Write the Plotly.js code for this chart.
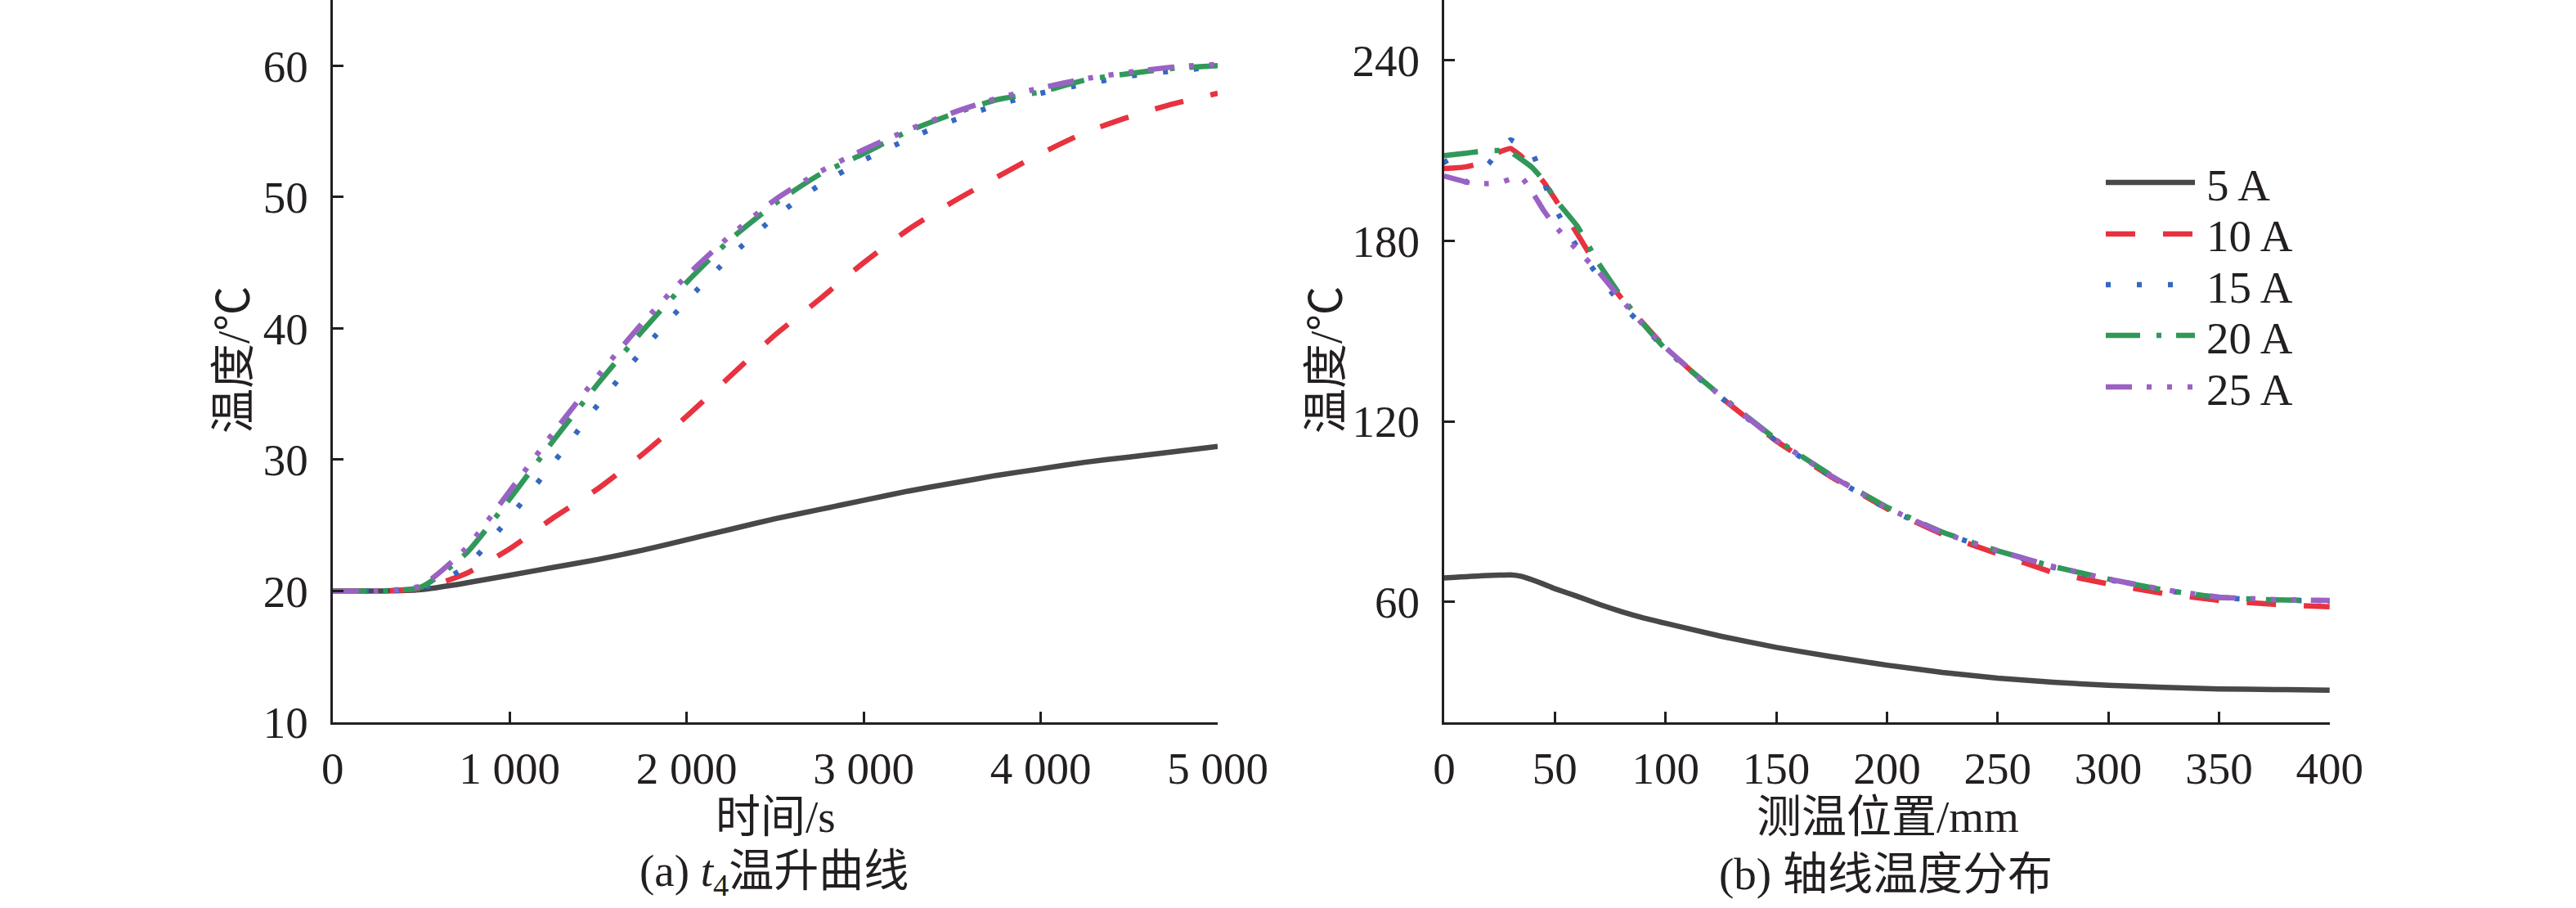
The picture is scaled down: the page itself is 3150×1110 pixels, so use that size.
<!DOCTYPE html>
<html>
<head>
<meta charset="utf-8">
<script src="https://cdn.plot.ly/plotly-3.0.1.min.js"></script>
<style>
  html, body { margin: 0; padding: 0; background: #fff; }
  #graph { width: 3150px; height: 1110px; }
</style>
</head>
<body>
<div id="graph"></div>
<script>
// (a) t4 temperature rise, time in s
var timeS = [0, 250, 500, 750, 1000, 1250, 1500, 1750, 2000, 2250, 2500, 2750, 3000, 3250, 3500, 3750, 4000, 4250, 4500, 4750, 5000];
var riseA5  = [20.0, 20.0, 20.1, 20.6, 21.2, 21.8, 22.4, 23.1, 23.9, 24.7, 25.5, 26.2, 26.9, 27.6, 28.2, 28.8, 29.3, 29.8, 30.2, 30.6, 31.0];
var riseA10 = [20.0, 20.0, 20.2, 21.3, 23.2, 25.6, 27.8, 30.4, 33.3, 36.4, 39.5, 42.2, 45.0, 47.5, 49.6, 51.5, 53.3, 54.9, 56.1, 57.1, 57.9];
var riseA15 = [20.0, 20.0, 20.2, 21.8, 25.6, 29.8, 34.2, 38.3, 42.1, 45.5, 48.5, 50.9, 52.8, 54.4, 55.8, 57.0, 57.9, 58.6, 59.2, 59.6, 59.9];
var riseA20 = [20.0, 20.0, 20.3, 22.8, 27.0, 31.5, 35.8, 39.8, 43.5, 46.8, 49.5, 51.7, 53.3, 55.0, 56.3, 57.4, 58.0, 58.9, 59.4, 59.8, 60.0];
var riseA25 = [20.0, 20.0, 20.4, 23.2, 27.6, 32.1, 36.4, 40.4, 44.0, 47.1, 49.8, 51.9, 53.6, 55.1, 56.4, 57.5, 58.3, 59.0, 59.5, 59.9, 60.1];

// (b) axial temperature, position in mm
var posMm = [0, 5, 10, 15, 20, 25, 30, 35, 40, 45, 50, 60, 70, 80, 90, 100, 125, 150, 175, 200, 225, 250, 275, 300, 325, 350, 375, 400];
var axA5  = [68.0, 68.2, 68.4, 68.6, 68.8, 68.9, 69.0, 68.5, 67.3, 65.9, 64.4, 61.9, 59.2, 56.8, 54.7, 52.9, 48.6, 44.9, 41.8, 39.0, 36.6, 34.7, 33.3, 32.3, 31.6, 31.1, 30.9, 30.7];
var axA10 = [204.0, 204.2, 204.6, 205.5, 207.5, 209.5, 210.7, 208.0, 204.0, 199.5, 194.0, 182.5, 170.5, 161.0, 152.5, 144.5, 128.0, 113.5, 101.5, 91.0, 82.5, 76.0, 69.8, 66.0, 62.8, 60.5, 59.2, 58.4];
var axA15 = [207.0, 201.0, 199.5, 203.0, 205.5, 210.0, 213.5, 211.5, 209.0, 199.5, 191.0, 178.0, 168.0, 159.0, 151.5, 144.0, 128.0, 113.5, 101.5, 91.0, 83.0, 76.8, 71.5, 67.4, 63.9, 61.4, 60.6, 60.3];
var axA20 = [208.3, 208.7, 209.1, 209.6, 210.0, 210.0, 209.5, 207.0, 204.2, 200.0, 194.0, 185.0, 172.3, 161.5, 152.3, 144.0, 128.5, 114.0, 102.0, 91.5, 83.2, 77.0, 71.8, 67.6, 64.0, 61.5, 60.7, 60.4];
var axA25 = [201.5, 200.5, 199.5, 199.2, 199.0, 199.2, 200.5, 201.0, 196.0, 190.0, 185.0, 177.0, 169.5, 160.5, 152.0, 144.5, 128.3, 113.8, 101.8, 91.3, 83.0, 77.0, 71.8, 67.6, 64.1, 61.6, 60.8, 60.5];

var currentNames = ['5 A', '10 A', '15 A', '20 A', '25 A'];
var timeTickVals = [0, 1000, 2000, 3000, 4000, 5000];
var timeTickText = ['0', '1 000', '2 000', '3 000', '4 000', '5 000'];
var riseTickVals = [10, 20, 30, 40, 50, 60];
var posTickVals = [0, 50, 100, 150, 200, 250, 300, 350, 400];
var axTickVals = [60, 120, 180, 240];

var colors = ['#48484b', '#e8323f', '#3568c0', '#31985a', '#9a62c4'];
var dashes = ['solid', '36px,34px', '6px,32px', '42px,20px,6px,18px', '32px,18px,6px,19px,6px,19px,6px,18px'];
var FONT = 'Liberation Serif, Noto Sans CJK SC, serif';
var INK = '#231f20';
var LW = 6.5;

var riseSeries = [riseA5, riseA10, riseA15, riseA20, riseA25];
var axSeries = [axA5, axA10, axA15, axA20, axA25];

var data = [];
for (var i = 0; i < 5; i++) {
    data.push({
        x: timeS, y: riseSeries[i], xaxis: 'x', yaxis: 'y',
        type: 'scatter', mode: 'lines', name: currentNames[i],
        line: {color: colors[i], width: LW, dash: dashes[i], shape: 'spline', smoothing: 0.6}
    });
}
for (var j = 0; j < 5; j++) {
    data.push({
        x: posMm, y: axSeries[j], xaxis: 'x2', yaxis: 'y2',
        type: 'scatter', mode: 'lines', name: currentNames[j],
        line: {color: colors[j], width: LW, dash: dashes[j], shape: 'spline', smoothing: 0.3}
    });
}

function axisBase() {
    return {
        showgrid: false, zeroline: false, showline: true,
        linecolor: INK, linewidth: 3,
        ticks: 'inside', ticklen: 13, tickwidth: 3, tickcolor: INK,
        tickfont: {family: FONT, size: 55, color: INK},
        fixedrange: true
    };
}

var xa = axisBase();
xa.domain = [0.1291, 0.4727]; xa.range = [0, 5000]; xa.anchor = 'y';
xa.tickvals = timeTickVals; xa.ticktext = timeTickText; xa.ticklabelstandoff = 6;

var ya = axisBase();
ya.domain = [0, 1]; ya.range = [10, 65]; ya.anchor = 'x';
ya.tickvals = riseTickVals; ya.ticklabelstandoff = 16;

var xb = axisBase();
xb.domain = [0.5606, 0.9044]; xb.range = [0, 400]; xb.anchor = 'y2';
xb.tickvals = posTickVals; xb.ticklabelstandoff = 6;

var yb = axisBase();
yb.domain = [0, 1]; yb.range = [20, 260]; yb.anchor = 'x2';
yb.tickvals = axTickVals; yb.ticklabelstandoff = 16;

var plotH = 883;
function py(pixel) { return (plotH - pixel) / plotH; }
function px(pixel) { return pixel / 3150; }

function label(text, x, y, angle, anchor) {
    return {
        text: text, xref: 'paper', yref: 'paper', x: px(x), y: py(y),
        xanchor: anchor || 'center', yanchor: 'middle', showarrow: false,
        textangle: angle || 0,
        font: {family: FONT, size: 55, color: INK}
    };
}

var annotations = [
    label('时间/s', 948, 998),
    label('(a) <i>t</i><sub>4</sub>温升曲线', 946, 1068),
    label('温度/℃', 285, 440, -90),
    label('测温位置/mm', 2308, 998),
    label('(b) 轴线温度分布', 2306, 1068),
    label('温度/℃', 1621, 440, -90)
];

// legend drawn as samples + labels to keep the long dash samples of the original
var legendRowY = [223, 286, 348, 410, 473];
var shapes = [];
for (var k = 0; k < 5; k++) {
    shapes.push({
        type: 'line', xref: 'paper', yref: 'paper',
        x0: px(2575), x1: px(2684), y0: py(legendRowY[k]), y1: py(legendRowY[k]),
        line: {color: colors[k], width: LW, dash: dashes[k]}
    });
    annotations.push(label(currentNames[k], 2696, legendRowY[k] + 3, 0, 'left'));
}

var layout = {
    width: 3150, height: 1110,
    margin: {l: 0, r: 0, t: 0, b: 1110 - plotH, pad: 0},
    paper_bgcolor: '#ffffff', plot_bgcolor: '#ffffff',
    font: {family: FONT, size: 55, color: INK},
    xaxis: xa, yaxis: ya, xaxis2: xb, yaxis2: yb,
    showlegend: false,
    shapes: shapes,
    annotations: annotations
};

Plotly.newPlot('graph', data, layout, {staticPlot: true});
</script>
</body>
</html>
